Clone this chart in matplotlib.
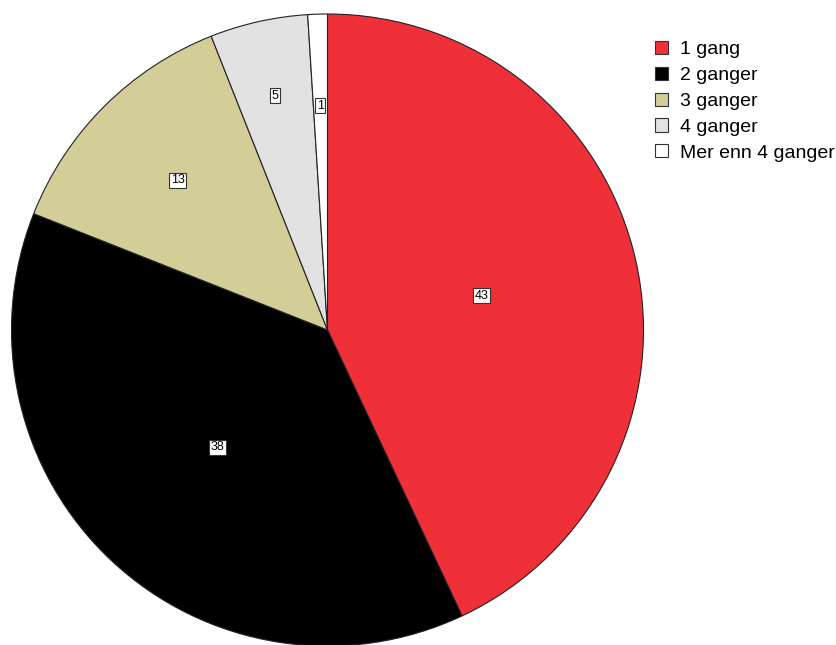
import matplotlib
matplotlib.use("Agg")
import matplotlib.pyplot as plt
import numpy as np

categories = ["1 gang", "2 ganger", "3 ganger", "4 ganger", "Mer enn 4 ganger"]
values = [43, 38, 13, 5, 1]
colors = ["#EF3039", "#000000", "#D3CD98", "#E2E2E2", "#FFFFFF"]
label_r = [0.50, 0.51, 0.67, 0.76, 0.71]

plt.rcParams['font.family'] = ['Liberation Sans', 'DejaVu Sans']

fig = plt.figure(figsize=(8.36, 6.45), dpi=100)
ax = fig.add_axes([11.5/836, (645-646)/645, 632/836, 632/645])
wedges, _ = ax.pie(values, colors=colors, startangle=90, counterclock=False,
                   wedgeprops=dict(edgecolor="#222222", linewidth=0.8))
ax.set_xlim(-1, 1)
ax.set_ylim(-1, 1)
ax.set_aspect('equal')

total = sum(values)
cum = 0
for v, r in zip(values, label_r):
    mid = 90 - (cum + v / 2) / total * 360
    cum += v
    a = np.deg2rad(mid)
    ax.text(r * np.cos(a), r * np.sin(a), str(v), ha='center', va='center', fontsize=9,
            bbox=dict(boxstyle='square,pad=0.12', facecolor='white', edgecolor='#333333', linewidth=0.8))

leg = fig.legend(wedges, categories, loc='upper left', bbox_to_anchor=(655/836, 1 - 41/645),
                 frameon=False, fontsize=14, handlelength=0.67, handleheight=0.67,
                 handletextpad=0.6, labelspacing=0.43, borderaxespad=0, borderpad=0)
for h in leg.legend_handles:
    h.set_edgecolor('#333333')
    h.set_linewidth(0.8)

fig.savefig("out.png", dpi=100)
